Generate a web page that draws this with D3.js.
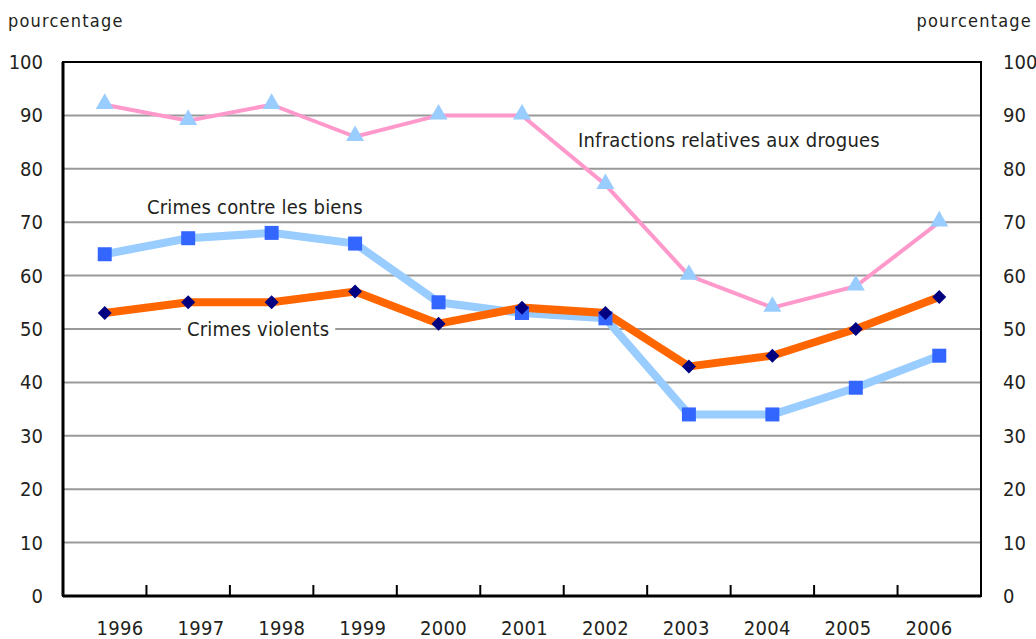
<!DOCTYPE html>
<html>
<head>
<meta charset="utf-8">
<script src="https://cdn.jsdelivr.net/npm/d3@7"></script>
<style>
  body { margin: 0; background: white; }
  svg text { font-family: "Liberation Sans Narrow", "DejaVu Sans Condensed", sans-serif; fill: #231f20; }
</style>
</head>
<body>
<div id="canvas"></div>
<script>
var w = 1036;
var h = 639;

// data
var years = ["1996", "1997", "1998", "1999", "2000", "2001", "2002", "2003", "2004", "2005", "2006"];
var violent = [53, 55, 55, 57, 51, 54, 53, 43, 45, 50, 56];
var property = [64, 67, 68, 66, 55, 53, 52, 34, 34, 39, 45];
var drugs = [92, 89, 92, 86, 90, 90, 77, 60, 54, 58, 70];
var yTicks = [0, 10, 20, 30, 40, 50, 60, 70, 80, 90, 100];

var plotL = 63, plotR = 981, plotT = 62, plotB = 596;

var xScale = d3.scaleBand()
               .domain(years)
               .range([plotL, plotR])
               .padding(0);

// year labels are spaced a little tighter than the bands in the original
var labelScale = d3.scalePoint()
               .domain(years)
               .range([120, 929]);

var yScale = d3.scaleLinear()
               .domain([0, 100])
               .range([plotB, plotT]);

var canvas = d3.select("#canvas")
               .append("svg")
               .attr("width", w)
               .attr("height", h)
               .style("background-color", "white");

// gridlines
canvas.append("g")
    .selectAll("line")
    .data(yTicks.filter(d => d > 0 && d < 100))
    .join("line")
    .attr("x1", plotL)
    .attr("x2", plotR)
    .attr("y1", d => yScale(d))
    .attr("y2", d => yScale(d))
    .attr("stroke", "#999999")
    .attr("stroke-width", 2);

// frame
canvas.append("rect")
    .attr("x", plotL)
    .attr("y", plotT)
    .attr("width", plotR - plotL)
    .attr("height", plotB - plotT)
    .attr("fill", "none")
    .attr("stroke", "black")
    .attr("stroke-width", 2);
canvas.append("line")
    .attr("x1", plotL).attr("x2", plotL)
    .attr("y1", plotT).attr("y2", plotB)
    .attr("stroke", "black").attr("stroke-width", 3);
canvas.append("line")
    .attr("x1", plotL).attr("x2", plotR)
    .attr("y1", plotB).attr("y2", plotB)
    .attr("stroke", "black").attr("stroke-width", 3);

// x ticks at band boundaries (pointing up)
canvas.append("g")
    .selectAll("line")
    .data(years.slice(1))
    .join("line")
    .attr("x1", d => xScale(d))
    .attr("x2", d => xScale(d))
    .attr("y1", plotB)
    .attr("y2", plotB - 11)
    .attr("stroke", "black")
    .attr("stroke-width", 2);

// x labels
canvas.append("g")
    .selectAll("text")
    .data(years)
    .join("text")
    .attr("x", d => labelScale(d))
    .attr("y", 635)
    .attr("text-anchor", "middle")
    .attr("font-size", 20)
    .attr("letter-spacing", 0.3)
    .text(d => d);

// y labels left and right
canvas.append("g")
    .selectAll("text")
    .data(yTicks)
    .join("text")
    .attr("x", 43)
    .attr("y", d => yScale(d) + 7)
    .attr("text-anchor", "end")
    .attr("font-size", 20)
    .text(d => d);

canvas.append("g")
    .selectAll("text")
    .data(yTicks)
    .join("text")
    .attr("x", 1003)
    .attr("y", d => yScale(d) + 7)
    .attr("text-anchor", "start")
    .attr("font-size", 20)
    .text(d => d);

canvas.append("text")
    .attr("x", 8)
    .attr("y", 27)
    .attr("font-size", 18)
    .attr("letter-spacing", 1.2)
    .text("pourcentage");

canvas.append("text")
    .attr("x", 1032)
    .attr("y", 27)
    .attr("text-anchor", "end")
    .attr("font-size", 18)
    .attr("letter-spacing", 1.2)
    .text("pourcentage");

var cx = d => xScale(d) + xScale.bandwidth() / 2;
var line = d3.line()
    .x(d => cx(d.year))
    .y(d => yScale(d.value));

function pairs(values) {
    return years.map((y, i) => ({year: y, value: values[i]}));
}

// series labels (with white boxes where they sit on a gridline)
function seriesLabel(txt, x, y, box) {
    var g = canvas.append("g");
    var t = g.append("text")
        .attr("x", x)
        .attr("y", y)
        .attr("font-size", 20)
        .attr("letter-spacing", 0.2)
        .text(txt);
    if (box) {
        var bb = t.node().getBBox();
        g.insert("rect", "text")
            .attr("x", bb.x - 6)
            .attr("y", bb.y)
            .attr("width", bb.width + 12)
            .attr("height", bb.height)
            .attr("fill", "white");
    }
}

seriesLabel("Crimes contre les biens", 147, 214, true);
seriesLabel("Crimes violents", 187, 336, true);
seriesLabel("Infractions relatives aux drogues", 578, 147, false);

// drugs line
canvas.append("path")
    .datum(pairs(drugs))
    .attr("d", line)
    .attr("fill", "none")
    .attr("stroke", "#ff99cc")
    .attr("stroke-width", 4);

// property line
canvas.append("path")
    .datum(pairs(property))
    .attr("d", line)
    .attr("fill", "none")
    .attr("stroke", "#99ccff")
    .attr("stroke-width", 8);

// violent line
canvas.append("path")
    .datum(pairs(violent))
    .attr("d", line)
    .attr("fill", "none")
    .attr("stroke", "#ff6600")
    .attr("stroke-width", 8);

// markers
canvas.append("g")
    .selectAll("path")
    .data(pairs(drugs))
    .join("path")
    .attr("d", d3.symbol(d3.symbolTriangle, 140))
    .attr("fill", "#99ccff")
    .attr("transform", d => `translate(${cx(d.year)}, ${yScale(d.value) - 1})`);

canvas.append("g")
    .selectAll("rect")
    .data(pairs(property))
    .join("rect")
    .attr("x", d => cx(d.year) - 7)
    .attr("y", d => yScale(d.value) - 7)
    .attr("width", 14)
    .attr("height", 14)
    .attr("fill", "#3366ff");

canvas.append("g")
    .selectAll("path")
    .data(pairs(violent))
    .join("path")
    .attr("d", "M 0 -7 L 7 0 L 0 7 L -7 0 Z")
    .attr("fill", "#000080")
    .attr("transform", d => `translate(${cx(d.year)}, ${yScale(d.value)})`);
</script>
</body>
</html>
